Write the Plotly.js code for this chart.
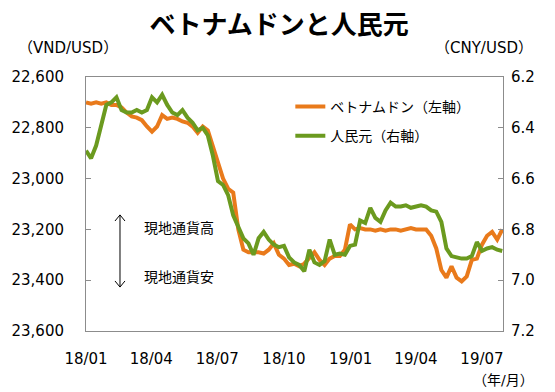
<!DOCTYPE html>
<html>
<head>
<meta charset="utf-8">
<script src="https://cdn.plot.ly/plotly-3.0.1.min.js"></script>
<style>html,body{margin:0;padding:0;background:#fff;}#chart{width:555px;height:392px;}</style>
</head>
<body>
<div id="chart"></div>
<script>
var dates = ['2018-01-01','2018-01-08','2018-01-15','2018-01-22','2018-01-29','2018-02-05','2018-02-12','2018-02-19','2018-02-26','2018-03-05','2018-03-12','2018-03-19','2018-03-26','2018-04-02','2018-04-09','2018-04-16','2018-04-23','2018-04-30','2018-05-07','2018-05-14','2018-05-21','2018-05-28','2018-06-04','2018-06-11','2018-06-18','2018-06-25','2018-07-02','2018-07-09','2018-07-16','2018-07-23','2018-07-30','2018-08-06','2018-08-13','2018-08-20','2018-08-27','2018-09-03','2018-09-10','2018-09-17','2018-09-24','2018-10-01','2018-10-08','2018-10-15','2018-10-22','2018-10-29','2018-11-05','2018-11-12','2018-11-19','2018-11-26','2018-12-03','2018-12-10','2018-12-17','2018-12-24','2018-12-31','2019-01-07','2019-01-14','2019-01-21','2019-01-28','2019-02-04','2019-02-11','2019-02-18','2019-02-25','2019-03-04','2019-03-11','2019-03-18','2019-03-25','2019-04-01','2019-04-08','2019-04-15','2019-04-22','2019-04-29','2019-05-06','2019-05-13','2019-05-20','2019-05-27','2019-06-03','2019-06-10','2019-06-17','2019-06-24','2019-07-01','2019-07-08','2019-07-15','2019-07-22','2019-07-29'];

var vnd = [22700,22705,22700,22705,22700,22710,22710,22720,22740,22755,22760,22770,22795,22815,22795,22750,22765,22760,22765,22775,22780,22795,22820,22795,22810,22870,22935,23000,23040,23055,23200,23280,23290,23290,23290,23295,23280,23255,23300,23315,23340,23335,23345,23335,23310,23290,23320,23340,23315,23305,23305,23280,23180,23200,23195,23200,23200,23205,23200,23205,23200,23200,23205,23200,23195,23200,23200,23200,23225,23275,23360,23390,23345,23390,23405,23385,23320,23315,23260,23225,23210,23240,23200];

var cny = [6.49,6.52,6.47,6.39,6.31,6.30,6.28,6.33,6.34,6.34,6.33,6.34,6.33,6.28,6.30,6.27,6.31,6.34,6.35,6.33,6.36,6.38,6.41,6.40,6.43,6.51,6.61,6.625,6.665,6.745,6.795,6.835,6.855,6.90,6.835,6.81,6.84,6.86,6.87,6.865,6.91,6.93,6.94,6.965,6.88,6.93,6.94,6.925,6.84,6.90,6.895,6.90,6.865,6.86,6.765,6.775,6.715,6.755,6.77,6.725,6.695,6.71,6.71,6.705,6.715,6.71,6.705,6.71,6.725,6.73,6.77,6.875,6.905,6.91,6.915,6.915,6.905,6.85,6.885,6.875,6.87,6.88,6.885];

var tickDates = ['2018-01-01','2018-04-01','2018-07-01','2018-10-01','2019-01-01','2019-04-01','2019-07-01'];
var tickLabels = ['18/01','18/04','18/07','18/10','19/01','19/04','19/07'];
var vndTicks = [22600,22800,23000,23200,23400,23600];
var cnyTicks = [6.2,6.4,6.6,6.8,7.0,7.2];

var FONT = 'DejaVu Sans, Noto Sans CJK JP, sans-serif';
var AX = '#8c8c8c';

var traces = [
  {x: dates, y: vnd, type: 'scatter', mode: 'lines', name: 'ベトナムドン（左軸）', legendgroup: 'a',
   line: {color: '#E97A1B', width: 4}, yaxis: 'y'},
  {x: dates, y: cny, type: 'scatter', mode: 'lines', name: '人民元（右軸）', legendgroup: 'b',
   line: {color: '#6B9A1F', width: 4}, yaxis: 'y2'}
];

var layout = {
  width: 555, height: 392,
  margin: {l: 86, r: 52, t: 77, b: 61},
  paper_bgcolor: '#fff', plot_bgcolor: '#fff',
  font: {family: FONT, size: 15, color: '#000'},
  title: {text: 'ベトナムドンと人民元', font: {family: 'Noto Sans CJK JP', size: 26, weight: 'bold', color: '#000'},
          xref: 'container', x: 0.503, xanchor: 'center', yref: 'container', y: 0.937, yanchor: 'middle'},
  showlegend: true,
  legend: {x: 0.49, y: 0.945, xanchor: 'left', yanchor: 'top', traceorder: 'grouped', tracegroupgap: 8,
           bgcolor: 'rgba(0,0,0,0)', font: {family: FONT, size: 14, color: '#000'}},
  xaxis: {type: 'date', range: ['2018-01-01', '2019-07-30'], tickvals: tickDates, ticktext: tickLabels,
          showgrid: false, zeroline: false, showline: true, linecolor: AX, linewidth: 1, mirror: true,
          ticks: '', ticklabelstandoff: 14, tickfont: {size: 15}},
  yaxis: {range: [23600, 22600], tickvals: vndTicks, tickformat: ',d', showgrid: false, zeroline: false,
          showline: true, linecolor: AX, linewidth: 1, ticks: 'inside', ticklen: 5, tickcolor: AX,
          ticklabelstandoff: 18, tickfont: {size: 15}},
  yaxis2: {overlaying: 'y', side: 'right', range: [7.2, 6.2], tickvals: cnyTicks, tickformat: '.1f',
           showgrid: false, zeroline: false, showline: true, linecolor: AX, linewidth: 1,
           ticks: 'inside', ticklen: 5, tickcolor: AX, ticklabelstandoff: 4, tickfont: {size: 15}},
  annotations: [
    {text: '（VND/USD）', xref: 'paper', yref: 'paper', x: -0.043, y: 1.114, xanchor: 'center', yanchor: 'middle', showarrow: false, font: {size: 15}},
    {text: '（CNY/USD）', xref: 'paper', yref: 'paper', x: 0.955, y: 1.114, xanchor: 'center', yanchor: 'middle', showarrow: false, font: {size: 15}},
    {text: '（年/月）', xref: 'paper', yref: 'paper', x: 1.0, y: -0.193, xanchor: 'center', yanchor: 'middle', showarrow: false, font: {size: 14}},
    {text: '現地通貨高', xref: 'paper', yref: 'paper', x: 0.134, y: 0.406, xanchor: 'left', yanchor: 'middle', showarrow: false, font: {size: 14}},
    {text: '現地通貨安', xref: 'paper', yref: 'paper', x: 0.134, y: 0.213, xanchor: 'left', yanchor: 'middle', showarrow: false, font: {size: 14}}
  ],
  shapes: [
    {type: 'line', xref: 'paper', yref: 'paper', x0: 0.0815, x1: 0.0815, y0: 0.173, y1: 0.457, line: {color: '#000', width: 1}},
    {type: 'path', xref: 'paper', yref: 'paper', path: 'M0.0695,0.433 L0.0815,0.457 L0.0935,0.433', line: {color: '#000', width: 1}},
    {type: 'path', xref: 'paper', yref: 'paper', path: 'M0.0695,0.197 L0.0815,0.173 L0.0935,0.197', line: {color: '#000', width: 1}}
  ]
};

Plotly.newPlot('chart', traces, layout, {displayModeBar: false, staticPlot: true});
</script>
</body>
</html>
